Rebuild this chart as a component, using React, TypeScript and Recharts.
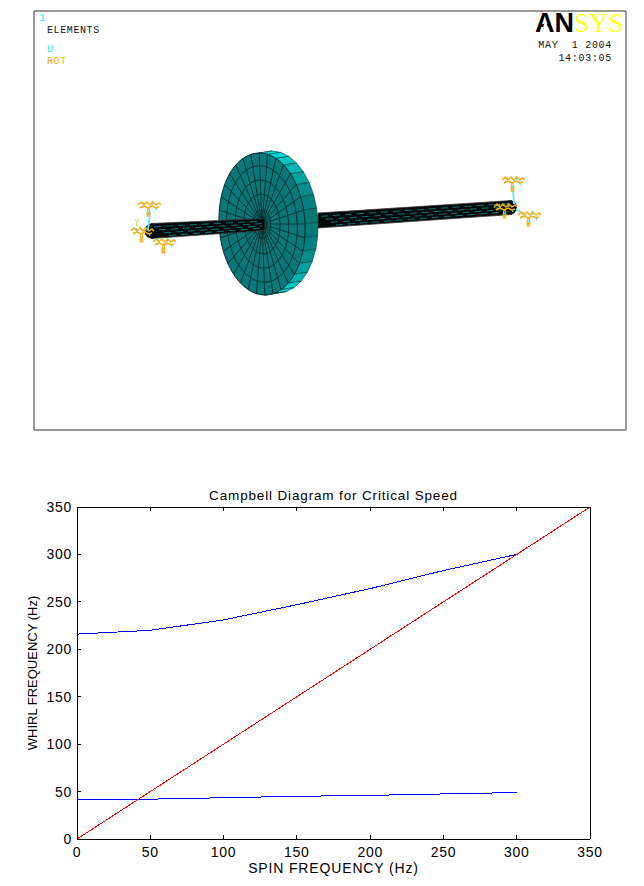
import React from 'react';
import { LineChart, Line, XAxis, YAxis, Label } from 'recharts';

// Campbell diagram values
const spinFrequency = [0, 50, 100, 150, 200, 250, 300, 350];
const upperWhirl = [216, 220, 231, 247, 264, 283, 300];
const lowerWhirl = [41.5, 42, 43.5, 45, 46, 47.5, 49];
const synchronous = [0, 50, 100, 150, 200, 250, 300, 350];
const axisTicks = [0, 50, 100, 150, 200, 250, 300, 350];

const chartData = spinFrequency.map((spin, i) => ({
  spin,
  upper: upperWhirl[i],
  lower: lowerWhirl[i],
  sync: synchronous[i]
}));

const SANS = '"Liberation Sans", Arial, sans-serif';
const MONO = '"Liberation Mono", monospace';
const TICK_LEN = 4;
const CRISP = 'crispEdges';
const AXIS_LINE = { stroke: '#000', shapeRendering: CRISP };

// MATLAB style ticks point into the plot, recharts only draws them outwards
const BottomTick = ({ x, y, payload }: any) => (
  <g>
    <line x1={x} y1={y} x2={x} y2={y - TICK_LEN} stroke="#000" shapeRendering={CRISP} />
    <text x={x} y={y + 18} textAnchor="middle" fontSize={14} letterSpacing={0.7} fontFamily={SANS} fill="#000">
      {payload.value}
    </text>
  </g>
);
const TopTick = ({ x, y }: any) => <line x1={x} y1={y} x2={x} y2={y + TICK_LEN} stroke="#000" shapeRendering={CRISP} />;
const LeftTick = ({ x, y, payload }: any) => (
  <g>
    <line x1={x} y1={y} x2={x + TICK_LEN} y2={y} stroke="#000" shapeRendering={CRISP} />
    <text x={x - 5} y={y + 5} textAnchor="end" fontSize={14} letterSpacing={0.7} fontFamily={SANS} fill="#000">
      {payload.value}
    </text>
  </g>
);
const RightTick = ({ x, y }: any) => <line x1={x} y1={y} x2={x - TICK_LEN} y2={y} stroke="#000" shapeRendering={CRISP} />;

// --- FE model picture in the upper panel ---
const SPOKES = 32;
const RINGS = [0.1, 0.2, 0.42, 0.62, 0.82, 1];
const FACE = { cx: 262, cy: 224 };
const BACK = { cx: 275, cy: 222 };

const discPoint = (c: { cx: number; cy: number }, r: number, deg: number) => {
  const a = (deg * Math.PI) / 180;
  const dy = 71 * r * Math.sin(a);
  return [c.cx + 43 * r * Math.cos(a) + dy * 0.04, c.cy + dy];
};

const ringPath = (c: { cx: number; cy: number }, r: number) => {
  const pts: string[] = [];
  for (let d = 0; d < 360; d += 6) pts.push(discPoint(c, r, d).join(','));
  return pts.join(' ');
};

const Rim = () => {
  const cells = [];
  for (let d = -101.25; d < 101; d += 360 / SPOKES) {
    const d2 = d + 360 / SPOKES;
    const t = Math.pow(Math.abs(Math.sin(((d + d2) / 2) * Math.PI / 180)), 2);
    const fill = `rgb(${Math.round(8 - 8 * t)},${Math.round(120 + 100 * t)},${Math.round(120 + 100 * t)})`;
    const pts = [discPoint(FACE, 1, d), discPoint(FACE, 1, d2), discPoint(BACK, 1, d2), discPoint(BACK, 1, d)];
    cells.push(<polygon key={d} points={pts.map((p) => p.join(',')).join(' ')} fill={fill} stroke="#0a3b3b" strokeWidth={0.6} />);
  }
  return <g>{cells}</g>;
};

const Face = () => (
  <g>
    <polygon points={ringPath(FACE, 1)} fill="#0a7878" stroke="#062a2a" strokeWidth={1} />
    {RINGS.slice(0, -1).map((r) => (
      <polygon key={r} points={ringPath(FACE, r)} fill="none" stroke="#062a2a" strokeWidth={0.9} />
    ))}
    {Array.from({ length: SPOKES }, (_, i) => {
      const deg = (i * 360) / SPOKES;
      const [x1, y1] = discPoint(FACE, 0.06, deg);
      const [x2, y2] = discPoint(FACE, 1, deg);
      return <line key={i} x1={x1} y1={y1} x2={x2} y2={y2} stroke="#062a2a" strokeWidth={0.9} />;
    })}
  </g>
);

const Shaft = ({ x1, y1, x2, y2, w1, w2, capEnd }: any) => {
  const rows = [-0.28, -0.08, 0.12, 0.3];
  return (
    <g>
      <polygon
        points={`${x1},${y1 - w1 / 2} ${x2},${y2 - w2 / 2} ${x2},${y2 + w2 / 2} ${x1},${y1 + w1 / 2}`}
        fill="#010a0a"
        stroke="#3c3c3c"
        strokeWidth={0.8}
        strokeLinejoin="round"
      />
      <circle cx={capEnd[0]} cy={capEnd[1]} r={capEnd[2]} fill="#010a0a" />
      {rows.map((r, i) => (
        <line
          key={r}
          x1={x1 + 3 + i * 5}
          y1={y1 + r * w1}
          x2={x2 - 3}
          y2={y2 + r * w2}
          stroke="#0d7f88"
          strokeWidth={0.9}
          strokeDasharray="7 5"
        />
      ))}
    </g>
  );
};

const Support = ({ x, y }: { x: number; y: number }) => (
  <g transform={`translate(${x},${y})`} fill="none">
    <path d="M-6,-4 l1,3 M3,-5 l1,4 M-2,5 l3,1 M7,1 l1,3 M-9,2 l2,-2" stroke="#2ce4f4" strokeWidth={1.2} />
    <path d="M-11,-1 l3,-3 l3,3 l3,-3 l3,3 l3,-3 l3,3 l3,-2 l2,2 M-9,2 l4,-2 l4,2 l4,-2 l4,2 l3,-1" stroke="#f6ad12" strokeWidth={1.5} />
    <path d="M-1,2 l-1,5 l3,0 l-1,-5 M-1,7 l-1,3 l3,0 z" stroke="#f6ad12" strokeWidth={1.1} />
  </g>
);

const ModelPanel = () => (
  <svg width={644} height={440} style={{ position: 'absolute', left: 0, top: 0 }}>
    <line x1={34} y1={11} x2={626} y2={11} stroke="#333" />
    <line x1={626} y1={11} x2={626} y2={430} stroke="#333" />
    <line x1={34} y1={11} x2={34} y2={430} stroke="#777" strokeWidth={1.5} />
    <line x1={34} y1={430} x2={626} y2={430} stroke="#777" strokeWidth={1.5} />

    <text x={39} y={21} fontFamily={MONO} fontSize={11} fill="#2ee6f0">1</text>
    <text x={47} y={33} fontFamily={MONO} fontSize={10} letterSpacing={0.6} fill="#111">ELEMENTS</text>
    <text x={47} y={52} fontFamily={MONO} fontSize={10} fill="#2ee6f0">U</text>
    <text x={47} y={64} fontFamily={MONO} fontSize={10} letterSpacing={0.6} fill="#f6ad12">ROT</text>

    <text x={535} y={32} fontSize={27}>
      <tspan fontFamily={SANS} fontWeight="bold" fill="#000">AN</tspan>
      <tspan fontFamily='"Liberation Serif", serif' fill="#ffff20">SYS</tspan>
    </text>
    {/* the logo's A has no crossbar */}
    <polygon points="541.5,32 549.5,32 545.5,20" fill="#fff" />
    <text x={612} y={48} textAnchor="end" fontFamily={MONO} fontSize={10} letterSpacing={0.7} fill="#111" xmlSpace="preserve">MAY  1 2004</text>
    <text x={612} y={61} textAnchor="end" fontFamily={MONO} fontSize={10} letterSpacing={0.7} fill="#111">14:03:05</text>

    <g style={{ filter: 'blur(0.3px)' }}>
      <Shaft x1={318} y1={220.5} x2={512} y2={207.5} w1={15} w2={14} capEnd={[510, 207.5, 7]} />
      <Rim />
      <Face />
      <Shaft x1={151} y1={231} x2={265} y2={224.5} w1={15} w2={12} capEnd={[152, 231, 7.5]} />

      <path d="M148,230 L150,212 M514,204 L513,190 M516,209 L526,216" stroke="#5fe8f8" strokeWidth={1.8} fill="none" />
      <path d="M146,232 L136,225" stroke="#b6e85a" strokeWidth={1} />
      <text x={134} y={225} fontFamily={MONO} fontSize={9} fill="#b6e85a">Y</text>
      <Support x={149} y={206} />
      <Support x={142} y={232} />
      <Support x={164} y={243} />
      <Support x={513} y={181} />
      <Support x={505} y={208} />
      <Support x={529} y={216} />
    </g>
  </svg>
);

const App = () => (
  <div style={{ position: 'absolute', left: 0, top: 0, width: 644, height: 886, background: '#fff', overflow: 'hidden' }}>
    <ModelPanel />
    <div style={{ position: 'absolute', left: 0, top: 0 }}>
      <LineChart width={644} height={886} data={chartData} margin={{ top: 506, right: 53, bottom: 7, left: 37 }}>
        <XAxis
          xAxisId="bottom"
          dataKey="spin"
          type="number"
          domain={[0, 350]}
          ticks={axisTicks}
          interval={0}
          height={40}
          tickLine={false}
          tickSize={0}
          tickMargin={0}
          tick={BottomTick}
          axisLine={AXIS_LINE}
        >
          <Label value="SPIN FREQUENCY (Hz)" position="insideBottom" offset={6} fontSize={14} letterSpacing={0.85} fontFamily={SANS} fill="#000" />
        </XAxis>
        <XAxis
          xAxisId="top"
          orientation="top"
          dataKey="spin"
          type="number"
          domain={[0, 350]}
          ticks={axisTicks}
          interval={0}
          height={1}
          tickLine={false}
          tickSize={0}
          tickMargin={0}
          tick={TopTick}
          axisLine={AXIS_LINE}
        >
          <Label value="Campbell Diagram for Critical Speed" position="top" offset={6} fontSize={13.5} letterSpacing={0.85} fontFamily={SANS} fill="#000" />
        </XAxis>
        <YAxis
          yAxisId="left"
          type="number"
          domain={[0, 350]}
          ticks={axisTicks}
          interval={0}
          width={40}
          tickLine={false}
          tickSize={0}
          tickMargin={0}
          tick={LeftTick}
          axisLine={AXIS_LINE}
        >
          <Label value="WHIRL FREQUENCY (Hz)" angle={-90} position="center" dx={-25} fontSize={13} fontFamily={SANS} fill="#000" />
        </YAxis>
        <YAxis
          yAxisId="right"
          orientation="right"
          type="number"
          domain={[0, 350]}
          ticks={axisTicks}
          interval={0}
          width={1}
          tickLine={false}
          tickSize={0}
          tickMargin={0}
          tick={RightTick}
          axisLine={AXIS_LINE}
        />
        <Line xAxisId="bottom" yAxisId="left" dataKey="upper" type="linear" stroke="#0000ff" strokeWidth={1} dot={false} isAnimationActive={false} shapeRendering={CRISP} />
        <Line xAxisId="bottom" yAxisId="left" dataKey="lower" type="linear" stroke="#0000ff" strokeWidth={1} dot={false} isAnimationActive={false} shapeRendering={CRISP} />
        <Line xAxisId="bottom" yAxisId="left" dataKey="sync" type="linear" stroke="#ff0000" strokeWidth={1} dot={false} isAnimationActive={false} shapeRendering={CRISP} />
      </LineChart>
    </div>
  </div>
);

export default App;
